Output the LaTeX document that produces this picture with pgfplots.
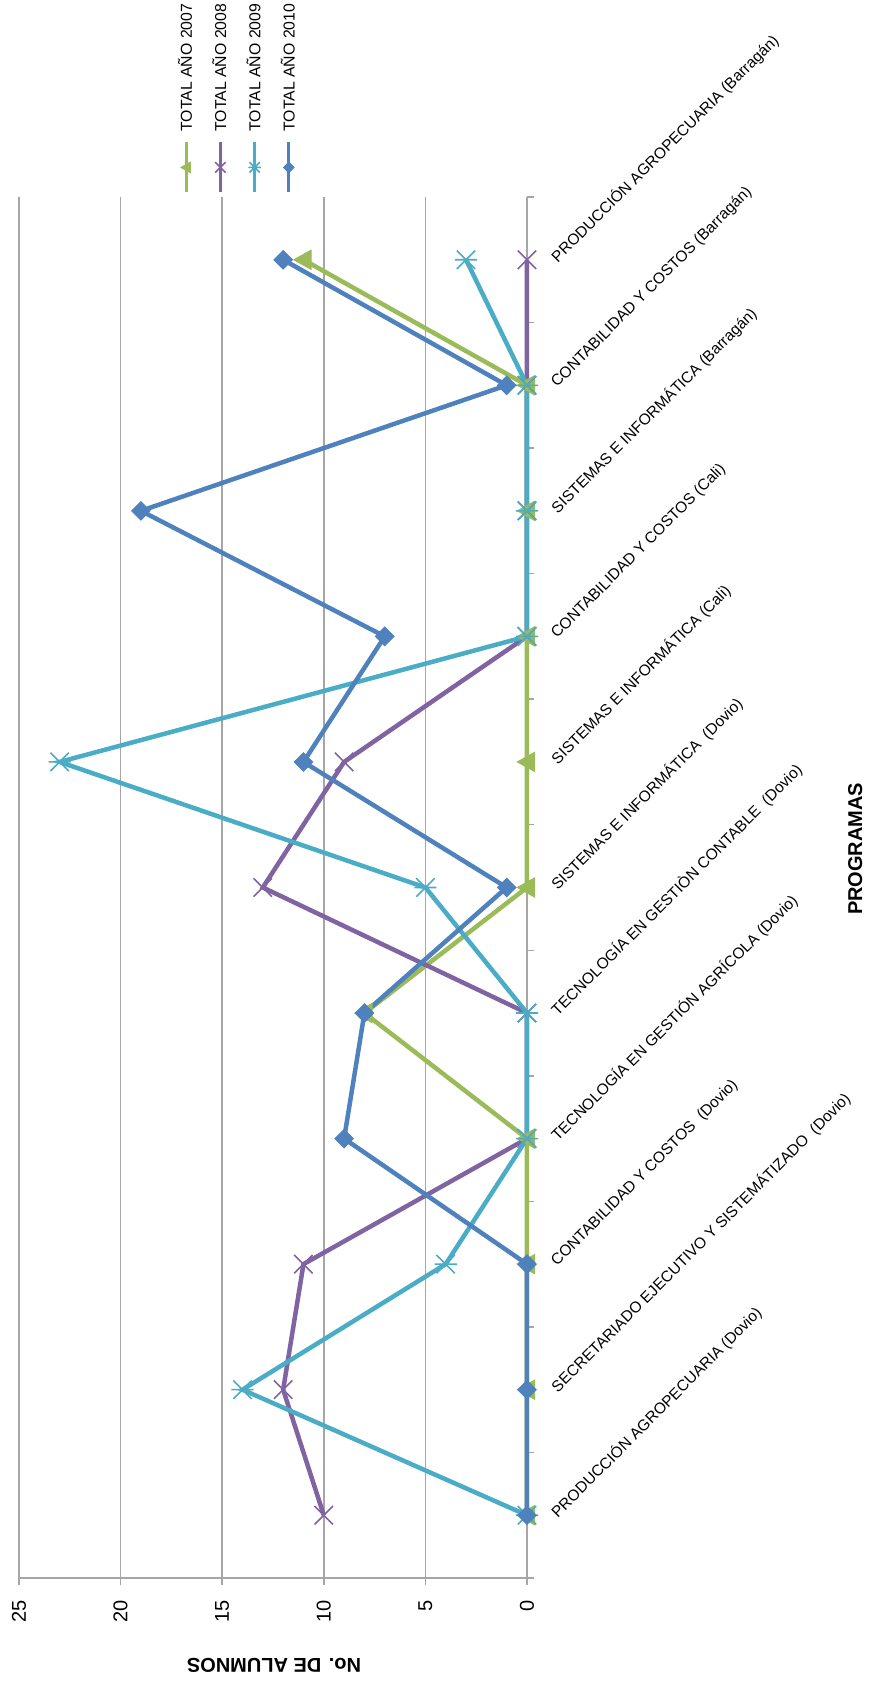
\documentclass[border=0pt]{standalone}
\usepackage{fontspec}
\setmainfont{Liberation Sans}
\usepackage{pgfplots}
\pgfplotsset{compat=1.18}
\usetikzlibrary{plotmarks}

\definecolor{cGreen}{HTML}{9BBB59}
\definecolor{cPurple}{HTML}{8064A2}
\definecolor{cCyan}{HTML}{4BACC6}
\definecolor{cBlue}{HTML}{4F81BD}
\definecolor{cGrid}{HTML}{A6A6A6}

\pgfdeclareplotmark{exdiamond}{%
  \pgfpathmoveto{\pgfqpoint{\pgfplotmarksize}{0pt}}%
  \pgfpathlineto{\pgfqpoint{0pt}{\pgfplotmarksize}}%
  \pgfpathlineto{\pgfqpoint{-\pgfplotmarksize}{0pt}}%
  \pgfpathlineto{\pgfqpoint{0pt}{-\pgfplotmarksize}}%
  \pgfpathclose\pgfusepathqfillstroke}
\pgfdeclareplotmark{extri}{%
  \pgfpathmoveto{\pgfqpoint{-\pgfplotmarksize}{0pt}}%
  \pgfpathlineto{\pgfqpoint{0.8\pgfplotmarksize}{\pgfplotmarksize}}%
  \pgfpathlineto{\pgfqpoint{0.8\pgfplotmarksize}{-\pgfplotmarksize}}%
  \pgfpathclose\pgfusepathqfillstroke}
\pgfdeclareplotmark{excross}{%
  \pgfpathmoveto{\pgfqpoint{-\pgfplotmarksize}{-\pgfplotmarksize}}%
  \pgfpathlineto{\pgfqpoint{\pgfplotmarksize}{\pgfplotmarksize}}%
  \pgfpathmoveto{\pgfqpoint{-\pgfplotmarksize}{\pgfplotmarksize}}%
  \pgfpathlineto{\pgfqpoint{\pgfplotmarksize}{-\pgfplotmarksize}}%
  \pgfusepathqstroke}
\pgfdeclareplotmark{exstar}{%
  \pgfpathmoveto{\pgfqpoint{-\pgfplotmarksize}{-\pgfplotmarksize}}%
  \pgfpathlineto{\pgfqpoint{\pgfplotmarksize}{\pgfplotmarksize}}%
  \pgfpathmoveto{\pgfqpoint{-\pgfplotmarksize}{\pgfplotmarksize}}%
  \pgfpathlineto{\pgfqpoint{\pgfplotmarksize}{-\pgfplotmarksize}}%
  \pgfpathmoveto{\pgfqpoint{-1.2\pgfplotmarksize}{0pt}}%
  \pgfpathlineto{\pgfqpoint{1.2\pgfplotmarksize}{0pt}}%
  \pgfusepathqstroke}

\begin{document}
\begin{tikzpicture}
\path[use as bounding box] (0,0) rectangle (436pt,843pt);
\begin{axis}[
  at={(136.5pt,399.25pt)}, anchor=center,
  scale only axis, width=254pt, height=690.5pt,
  x dir=reverse,
  xmin=0, xmax=25, ymin=-0.5, ymax=10.5,
  axis x line*=bottom, axis y line*=right,
  axis line style={cGrid, line width=0.75pt},
  xtick={0,5,10,15,20,25},
  ytick={0,1,...,10},
  minor ytick={-0.5,0.5,...,10.5},
  tick align=outside,
  major tick length=3.5pt, minor tick length=3.5pt,
  major y tick style={draw=none},
  every tick/.style={cGrid, line width=0.75pt},
  minor y tick style={cGrid, line width=0.75pt},
  xmajorgrids,
  major x grid style={cGrid, line width=0.8pt},
  /pgf/number format/assume math mode=true,
  xticklabel style={rotate=90, anchor=east, inner sep=0pt, font=\fontsize{10}{12}\selectfont},
  xticklabel shift=7.5pt,
  yticklabel style={rotate=45, anchor=west, inner sep=0pt, font=\fontsize{7.75}{9}\selectfont},
  yticklabel shift=10pt,
  yticklabels={
    PRODUCCIÓN AGROPECUARIA (Dovio),
    SECRETARIADO EJECUTIVO Y SISTEMÁTIZADO\ \ (Dovio),
    CONTABILIDAD Y COSTOS\ \ (Dovio),
    TECNOLOGÍA EN GESTIÓN AGRÍCOLA (Dovio),
    TECNOLOGÍA EN GESTIÒN CONTABLE\ \ (Dovio),
    SISTEMAS E INFORMÁTICA\ \ (Dovio),
    SISTEMAS E INFORMÁTICA (Cali),
    CONTABILIDAD Y COSTOS (Cali),
    SISTEMAS E INFORMÁTICA (Barragán),
    CONTABILIDAD Y COSTOS (Barragán),
    PRODUCCIÓN AGROPECUARIA (Barragán)},
  xlabel={\textbf{No. DE ALUMNOS}},
  xlabel style={at={(axis description cs:0.502,-0.063)}, anchor=center, rotate=180, font=\fontsize{10}{12}\selectfont},
  ylabel={\textbf{PROGRAMAS}},
  ylabel style={at={(axis description cs:1.646,0.528)}, anchor=center, rotate=0, font=\fontsize{10}{12}\selectfont},
  clip=false,
  legend columns=-1,
  legend cell align=left,
  legend style={at={(axis description cs:0.314,1.046)}, anchor=south west, inner sep=0pt, outer sep=0pt,
    draw=none, fill=none, font=\fontsize{7.9}{9}\selectfont, column sep=0pt,
    /tikz/every even column/.append style={column sep=9.4pt},
    nodes={rotate=90, anchor=west, inner sep=1pt, text height=5.7pt, text depth=0pt}},
  legend image code/.code={\draw[#1,overlay,line width=1.5pt,mark size=2.6pt,mark repeat=2,mark phase=2] plot coordinates {(3.85pt,-4.5pt) (3.85pt,-17pt) (3.85pt,-29.5pt)};},
]
\addplot[cGreen, line width=2.25pt, mark=extri, mark size=4.8pt, mark options={fill=cGreen, line width=0.5pt}]
  coordinates {(0,0) (0,1) (0,2) (0,3) (8,4) (0,5) (0,6) (0,7) (0,8) (0,9) (11,10)};
\addlegendentry{TOTAL AÑO 2007}
\addplot[cPurple, line width=2.25pt, mark=excross, mark size=4.6pt, mark options={line width=0.8pt}]
  coordinates {(10,0) (12,1) (11,2) (0,3) (0,4) (13,5) (9,6) (0,7) (0,8) (0,9) (0,10)};
\addlegendentry{TOTAL AÑO 2008}
\addplot[cCyan, line width=2.25pt, mark=exstar, mark size=4.6pt, mark options={line width=0.8pt}]
  coordinates {(0,0) (14,1) (4,2) (0,3) (0,4) (5,5) (23,6) (0,7) (0,8) (0,9) (3,10)};
\addlegendentry{TOTAL AÑO 2009}
\addplot[cBlue, line width=2.25pt, mark=exdiamond, mark size=4.6pt, mark options={fill=cBlue, line width=0.5pt}]
  coordinates {(0,0) (0,1) (0,2) (9,3) (8,4) (1,5) (11,6) (7,7) (19,8) (1,9) (12,10)};
\addlegendentry{TOTAL AÑO 2010}
\end{axis}
\end{tikzpicture}
\end{document}
